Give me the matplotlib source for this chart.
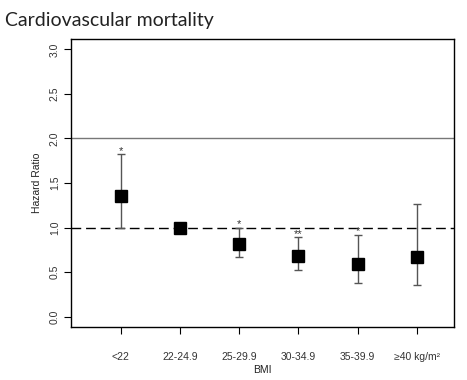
import matplotlib
matplotlib.use("Agg")
import matplotlib.pyplot as plt

categories = ["<22", "22-24.9", "25-29.9", "30-34.9", "35-39.9", "\u226540 kg/m\u00b2"]
hr = [1.35, 1.00, 0.81, 0.685, 0.59, 0.67]
ci_low = [1.00, 1.00, 0.675, 0.525, 0.375, 0.355]
ci_high = [1.825, 1.00, 1.00, 0.89, 0.92, 1.26]
stars = ["*", "", "*", "**", "*", ""]
yticks = [0.0, 0.5, 1.0, 1.5, 2.0, 2.5, 3.0]

fig = plt.figure(figsize=(4.67, 3.80), dpi=100)
ax = fig.add_axes([71/467, 1 - 327/380, (454-71)/467, (327-39)/380])

x = list(range(1, len(categories) + 1))
ax.axhline(2.0, color="#777777", lw=1.0, zorder=1)
ax.axhline(1.0, color="black", lw=1.0, dashes=(7, 3.5), zorder=1)

for xi, h, lo, hi in zip(x, hr, ci_low, ci_high):
    if hi > lo:
        ax.errorbar([xi], [h], yerr=[[h - lo], [hi - h]], fmt="none",
                    ecolor="#555555", elinewidth=1.0, capsize=3, capthick=1.0, zorder=2)
ax.plot(x, hr, ls="none", marker="s", ms=8, color="black", zorder=3)

for xi, hi, s in zip(x, ci_high, stars):
    if s:
        ax.text(xi, hi + 0.005, s, ha="center", va="baseline", fontsize=8,
                family="Liberation Sans", color="#333333", zorder=4)

ax.set_xlim(0.16, 6.63)
ax.set_ylim(-0.116, 3.116)
ax.set_xticks(x)
ax.set_xticklabels(categories, fontsize=7.5, family="Liberation Sans", color="#333333")
ax.set_yticks(yticks)
ax.set_yticklabels([f"{v:.1f}" for v in yticks], fontsize=7.5, family="Liberation Sans",
                   rotation=90, va="center", color="#333333")
ax.tick_params(axis="both", direction="out", length=5, width=0.8)
ax.tick_params(axis="x", pad=13)
ax.tick_params(axis="y", pad=3)
for sp in ax.spines.values():
    sp.set_linewidth(1.0)

ax.set_ylabel("Hazard Ratio", fontsize=7.5, family="Liberation Sans", labelpad=6, color="#222222")
ax.set_xlabel("BMI", fontsize=7.5, family="Liberation Sans", labelpad=2, color="#222222")

fig.text(5/467, 1 - 26/380, "Cardiovascular mortality", fontsize=14, family="Lato",
         ha="left", va="baseline", color="#222222")

fig.savefig("out.png", dpi=100)
